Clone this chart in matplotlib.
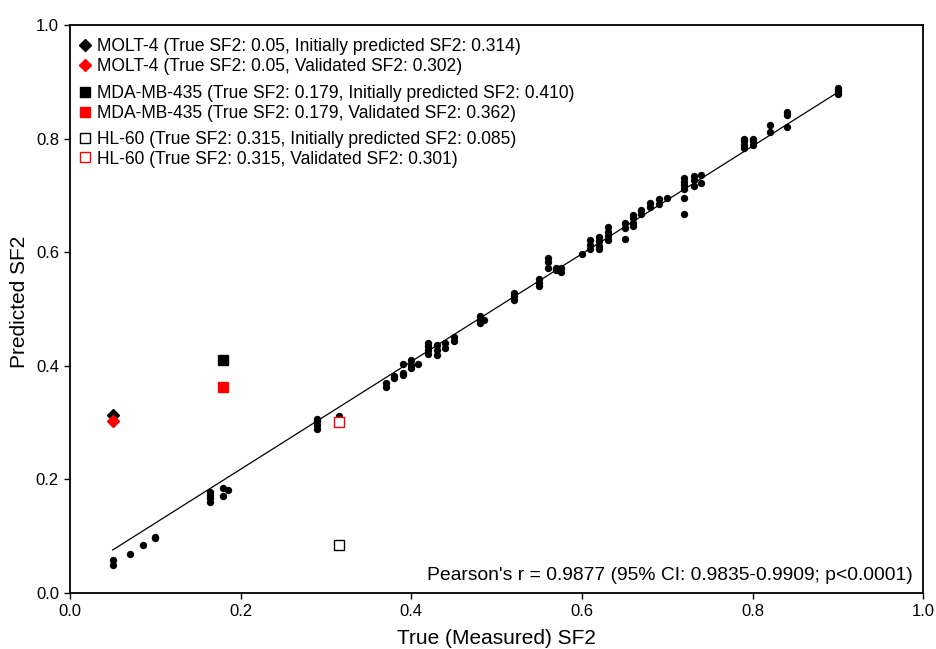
import numpy as np
import matplotlib
matplotlib.use("Agg")
import matplotlib.pyplot as plt
from matplotlib.lines import Line2D

plt.rcParams['font.family'] = ['Liberation Sans', 'DejaVu Sans']

# cell lines used to build the model (true vs predicted SF2)
true_sf2 = [0.05, 0.05, 0.07, 0.086, 0.10, 0.10,
            0.164, 0.164, 0.164, 0.164, 0.179, 0.179, 0.185,
            0.29, 0.29, 0.29, 0.29, 0.315,
            0.37, 0.37, 0.38, 0.38, 0.39, 0.39, 0.39, 0.40, 0.40, 0.40, 0.408,
            0.42, 0.42, 0.42, 0.42, 0.43, 0.43, 0.43, 0.44, 0.44, 0.45, 0.45,
            0.481, 0.481, 0.481, 0.485, 0.52, 0.52, 0.52, 0.55, 0.55, 0.55,
            0.56, 0.56, 0.56, 0.57, 0.57, 0.576, 0.576, 0.60,
            0.61, 0.61, 0.61, 0.62, 0.62, 0.62, 0.62, 0.63, 0.63, 0.63, 0.63,
            0.65, 0.65, 0.65, 0.66, 0.66, 0.66, 0.66, 0.669, 0.669,
            0.68, 0.68, 0.69, 0.69, 0.70,
            0.72, 0.72, 0.72, 0.72, 0.72, 0.72, 0.731, 0.731, 0.731, 0.74, 0.74,
            0.79, 0.79, 0.79, 0.79, 0.80, 0.80, 0.80, 0.82, 0.82,
            0.84, 0.84, 0.84, 0.90, 0.90, 0.90]
pred_sf2 = [0.058, 0.049, 0.069, 0.084, 0.099, 0.096,
            0.178, 0.172, 0.167, 0.161, 0.185, 0.171, 0.181,
            0.306, 0.302, 0.296, 0.288, 0.312,
            0.370, 0.363, 0.382, 0.378, 0.404, 0.388, 0.383, 0.410, 0.401, 0.396, 0.404,
            0.440, 0.434, 0.428, 0.421, 0.437, 0.428, 0.419, 0.440, 0.432, 0.450, 0.444,
            0.487, 0.481, 0.475, 0.481, 0.528, 0.522, 0.516, 0.552, 0.546, 0.540,
            0.589, 0.582, 0.573, 0.572, 0.568, 0.572, 0.566, 0.597,
            0.621, 0.613, 0.605, 0.626, 0.619, 0.611, 0.606, 0.644, 0.636, 0.628, 0.621,
            0.651, 0.642, 0.623, 0.665, 0.660, 0.652, 0.646, 0.674, 0.668,
            0.687, 0.680, 0.693, 0.685, 0.695,
            0.730, 0.724, 0.718, 0.712, 0.695, 0.667, 0.735, 0.727, 0.717, 0.736, 0.722,
            0.800, 0.795, 0.789, 0.783, 0.800, 0.795, 0.789, 0.824, 0.812,
            0.847, 0.842, 0.821, 0.889, 0.884, 0.879]

# regression line as drawn in the figure
fit_slope = 0.948
fit_intercept = 0.0283
fit_range = [0.05, 0.90]

# validation cell lines
val_names = ["MOLT-4", "MDA-MB-435", "HL-60"]
val_true = [0.05, 0.179, 0.315]
val_initial = [0.314, 0.410, 0.085]
val_validated = [0.302, 0.362, 0.301]
val_markers = ["D", "s", "s"]
val_filled = [True, True, False]

pearson_text = "Pearson's r = 0.9877 (95% CI: 0.9835-0.9909; p<0.0001)"

fig = plt.figure(figsize=(9.36, 6.49), dpi=100)
ax = fig.add_axes([0.0748, 0.0863, 0.9115, 0.8752])

ax.scatter(true_sf2, pred_sf2, s=28, color='black', zorder=3, linewidths=0)

xs = np.array(fit_range)
ax.plot(xs, fit_intercept + fit_slope * xs, color='black', lw=0.9, zorder=2)

groups = []
for name, t, ini, val, mk, filled in zip(val_names, val_true, val_initial,
                                         val_validated, val_markers, val_filled):
    ms = 6.5 if mk == "D" else 6.8
    handles = []
    labels = []
    for yv, col, lab in [(ini, 'black', f"{name} (True SF2: {t}, Initially predicted SF2: {ini:.3f})"),
                         (val, 'red', f"{name} (True SF2: {t}, Validated SF2: {val:.3f})")]:
        face = col if filled else 'white'
        ax.plot([t], [yv], marker=mk, ms=ms, mfc=face, mec=col, mew=1.0,
                ls='none', zorder=4)
        handles.append(Line2D([], [], marker=mk, ms=ms, mfc=face, mec=col,
                              mew=1.0, ls='none'))
        labels.append(lab)
    groups.append((handles, labels))

legend_tops = [0.986, 0.903, 0.823]
for i, ((handles, labels), top) in enumerate(zip(groups, legend_tops)):
    leg = ax.legend(handles, labels, loc='upper left', bbox_to_anchor=(0.005, top),
                    frameon=False, fontsize=12.65, handlelength=0.6,
                    handletextpad=0.38, labelspacing=0.16, borderpad=0.3,
                    borderaxespad=0)
    if i < len(groups) - 1:
        ax.add_artist(leg)

ax.text(0.988, 0.015, pearson_text, transform=ax.transAxes, ha='right',
        va='bottom', fontsize=13.9)

ax.set_xlim(0, 1.0)
ax.set_ylim(0, 1.0)
ax.set_xticks([0.0, 0.2, 0.4, 0.6, 0.8, 1.0])
ax.set_yticks([0.0, 0.2, 0.4, 0.6, 0.8, 1.0])
ax.xaxis.set_major_formatter(matplotlib.ticker.FormatStrFormatter('%.1f'))
ax.yaxis.set_major_formatter(matplotlib.ticker.FormatStrFormatter('%.1f'))
ax.tick_params(direction='out', length=4, width=1, labelsize=12, pad=4)
for sp in ax.spines.values():
    sp.set_linewidth(1.3)

ax.set_xlabel("True (Measured) SF2", fontsize=15, labelpad=7)
ax.set_ylabel("Predicted SF2", fontsize=15)
ax.yaxis.set_label_coords(-0.048, 0.512)

fig.savefig("out.png", dpi=100)
